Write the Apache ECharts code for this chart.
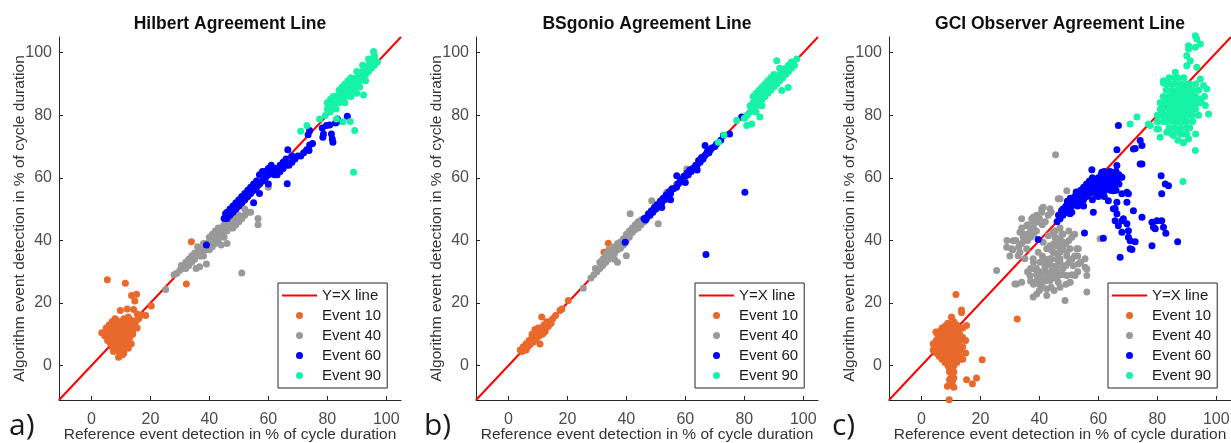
<!DOCTYPE html>
<html>
<head>
<meta charset="utf-8">
<script src="https://cdn.jsdelivr.net/npm/echarts@6/dist/echarts.min.js"></script>
<style>
html,body{margin:0;padding:0;background:#fff;}
#chart{width:1231px;height:443px;}
</style>
</head>
<body>
<div id="chart"></div>
<script>
// ---------- data ----------
const panelTitles = ['Hilbert Agreement Line', 'BSgonio Agreement Line', 'GCI Observer Agreement Line'];
const panelLetters = ['a)', 'b)', 'c)'];
const tickValues = [0, 20, 40, 60, 80, 100];
const axisRange = [-11, 105];
const seriesNames = ['Y=X line', 'Event 10', 'Event 40', 'Event 60', 'Event 90'];
const xAxisName = 'Reference event detection in % of cycle duration';
const yAxisName = 'Algorithm event detection in % of cycle duration';

// Panel a) Hilbert
const hilbertE10 = [[6,9],[6,11],[6.5,12.5],[6,13],[7,14],[7,10],[7,8],[7,6],[7.5,11.5],[8,13],[8,9],[8,7],[8,5],[8.5,11],[8.5,14.5],[9,12],[9,10],[9,8],[9,6],[9.2,2.7],[9.5,13.5],[9.5,4.5],[10,11],[10,9],[10,7],[10,5],[10,14],[10.5,12.5],[10.5,8],[11,10],[11,13],[11,6],[11,4],[11.5,11.5],[11.5,8.5],[12,14],[12,12],[12,10],[12,7],[12.5,5.5],[13,13],[13,11],[13,9],[13.5,14.5],[14,12],[14,10],[14.5,13],[15,14],[5,10],[5.5,8],[4.5,9.5],[6.5,7],[7.5,4.5],[8,15],[11,15],[12.5,15.5],[13.5,7],[10.5,3.5],[3.5,10.5],[5,12],[15.5,12],
  [6,10],[7,12],[8,11],[8,12],[9,11],[10,10],[10,12],[11,11],[11,9],[12,11],[12,9],[12,8],[13,12],[11,7],[10,6],[9,7],[8,6],[9,9],[10,8],[13,10],[14,11],[7,13],[7,9],
  [5.4,27.4],[11.5,26.3],[13.6,22.4],[15.3,22.8],[14.7,20.6],[9.8,17.6],[12.1,18.1],[14.3,17.9],[17,16.2],[18.4,16],[20.3,19],[33.9,39.6],[32.2,26.1],[15.5,16.5],[16,15]];
const hilbertE40 = [[25.2,24.3],[28,29],[29,29.5],[30,30.5],[30.5,32],[31,31],[32,33],[32,31],[33,34],[33,32],[34,35],[34,33],[35,36],[35,34],[35.5,31],[36,36],[36,38],[37,37],[37,35],[38,39],[38,37],[38,35],[39,39],[39,37],[39,32.5],[40,41],[40,39],[40,37],[41,42],[41,40],[42,43],[42,41],[42,39],[43,44],[43,42],[43,40],[44,44],[44,42],[45,45],[45,43],[45,41],[46,45],[46,43],[46,39],[47,46],[47,44],[48,46],[48,44],[49,47],[49,45],[50,48],[50,46],[51,47],[52,48],[52,50],[53,49],[54,49],[56.5,47],[56.5,45],[51,29.6],[36.7,31.6],[60,57],[49,51.7],[44,38.5],[41,38]];
const hilbertE60 = [[39,38.5],[45,47],[45.5,48.5],[46,47],[46,49],[47,48],[47,50],[48,49],[48,51],[49,50],[49,52],[50,51],[50,53],[51,52],[51,54],[52,53],[52,55],[53,54],[53,56],[54,55],[54,57],[55,56],[55,58],[56,57],[56,59],[57,58],[57,61],[58,59],[58,62],[59,60],[59,62],[60,61],[60,63],[61,62],[61,64],[62,61],[62,63],[63,61],[63,63],[64,62],[64,64],[65,63],[65,65],[66,64],[66,66],[67,64],[68,65],[68,67],[69,66],[70,67],[71,67],[72,68],[73,69],[74,70.5],[75,71],[73.8,68.7],[66.4,58.1],[55,52],[57,55],[60,58],
  [74,75.1],[79.7,76.7],[78.7,74],[78.5,73],[81.4,74],[81.7,72.4],[80.8,76.9],[83.4,78.8],[86.8,79.7],[82.8,77.5],[78.3,75.9],[81.9,71.4],[83.6,78.1],[73.5,73.8],[66.6,69]];
const hilbertE90 = [[80,82],[80,84],[81,83],[81,85],[82,83],[82,85],[82,86],[83,84],[83,86],[84,84],[84,86],[84,88],[85,85],[85,87],[85,89],[86,86],[86,88],[86,90],[87,87],[87,89],[87,91],[88,88],[88,90],[88,92],[89,89],[89,91],[90,90],[90,92],[90,94],[91,91],[91,93],[92,92],[92,94],[92,96],[93,93],[93,95],[94,94],[94,96],[94,98],[95,95],[95,97],[96,96],[96,98],[97,97],[96,99],[95.7,100.4],[92.3,86.5],[90,87],[88,86],[86,84],[83,82],[81,81],[89,88],[91,89],[93,91],
  [71,74.9],[73.1,76.7],[77.4,78.8],[79.3,79.9],[83.1,78.8],[85.3,77.9],[87.8,78],[89.3,75.1],[88.9,61.8]];

// Panel b) BSgonio
const bsgonioE10 = [[4,5],[4.5,4.5],[5,5.5],[5,6],[5.5,5],[6,6],[6,7],[6.5,6],[7,7],[7,8],[7.5,7],[8,8],[8,9],[8.5,7.5],[9,9],[9,10],[9.5,8.5],[10,10],[10,11],[10.5,9.5],[11,11],[11,12],[11.5,10],[12,12],[12,13],[12.5,11],[13,13],[13,14],[13.5,12.5],[14,14],[14.5,13.5],[15,15],[8,10],[9,11.5],[10,12],[11.3,15.5],[10.7,6.9],[17.5,17.6],[18.1,18.1],[20.3,20.8],[33.9,39.1],[32.4,36.2],[16,16],[6,5],[7,6.5],[12,10.5]];
const bsgonioE40 = [[25.4,24.7],[28,28],[29,29],[29.5,31],[30,30],[31,31],[31,33],[32,32],[32,34],[33,33],[33,35.5],[34,34],[34,36],[35,35],[35,37],[36,36],[36,38],[37,37],[37,39],[38,37.5],[38,39.5],[39,38.5],[39,40.5],[40,40],[40,42],[41,41],[41,43],[42,42.5],[42,44],[43,43.5],[43,45],[44,44],[44,46],[45,45],[45,46.5],[46,46],[47,47],[48,48],[40,35.1],[37,33],[41.3,48.5],[50.8,45.3],[48.6,52.7],[53.7,55.4],[55,56],[57,58],[60.5,62.8],[50,51],[52,53],[36,34],[34,37]];
const bsgonioE60 = [[39.6,39.4],[46,47],[46.5,46.5],[47,47.5],[47.5,48.5],[48,48],[48.5,49.5],[49,49],[49.5,50.5],[50,50],[50.5,51.5],[51,51],[51.5,52.5],[52,52],[52.5,53.5],[53,53],[53.5,54.5],[54,54],[54.5,55.5],[55,55],[55.5,56.5],[56,56.5],[57,57],[57.1,60.7],[57.5,58],[58,58.5],[58.5,59.5],[59,59],[59.5,60.5],[60,60.5],[60.5,61.5],[61,61],[61.5,62.5],[62,62],[62.5,63],[63,63],[63.5,64],[64,64],[64.5,65.5],[65,65],[65.5,66.5],[66,66],[66.7,70.3],[66.5,67],[67,67.5],[67.5,68.5],[68,68],[68.5,69],[69,69.5],[70,70],[70.6,70.8],[72,72],[72.9,73.5],[75,74],[79.1,79.4],[80.2,55.4],[67,35.5],[55,53],[52,50.5],[60,58.5],[64,62.5]];
const bsgonioE90 = [[80.8,76.7],[82.5,77.2],[85.3,79.4],[81,80],[82,81],[82,83],[83,82],[83,84],[83,86],[84,83],[84,85],[84,87],[85,84],[85,86],[85,88],[86,85],[86,87],[86,89],[87,86],[87,88],[87,90],[88,87],[88,89],[88,91],[89,88],[89,90],[89,92],[90,89],[90,91],[90,93],[91,90],[91,92],[92,91],[92,93],[92,95],[93,92],[93,94],[94,93],[94,95],[95,94],[95,96],[96,95],[96,97],[97,96],[97.8,98],[91,97.4],[94.9,88.9],[92.7,87.9],[71.2,71.4],[73.1,73.7],[77.4,78.3],[80,79],[84,81],[86,83]];

// Panel c) GCI observer
const gciE10 = [[4,5],[4,7],[5,4],[5,6],[5,8],[5.5,10],[6,3],[6,5],[6,7],[6,9],[6.5,11],[7,2],[7,4],[7,6],[7,8],[7,10],[8,1],[8,3],[8,5],[8,7],[8,9],[8,11],[8.5,13],[9,0],[9,2],[9,4],[9,6],[9,8],[9,10],[9,12],[10,-1],[10,1],[10,3],[10,5],[10,7],[10,9],[10,11],[10,13],[11,0],[11,2],[11,4],[11,6],[11,8],[11,10],[11,12],[12,1],[12,3],[12,5],[12,7],[12,9],[12,11],[13,2],[13,5],[13,8],[13,10],[14,6],[14,9],[14,12],[15,8],[15,4],[14,2],[9.5,-2],[10.5,-3],[10,-4],[11,-2],[10.5,-5],[9.5,-4.5],
  [6,4],[7,3],[8,2],[7,5],[8,4],[9,3],[9,5],[9,7],[10,6],[10,8],[11,5],[11,7],[11,9],[12,6],[12,8],[13,6],[13,3],[12,2],[8,6],[8,8],[7,9],[6,6],[5,7],[11,1],[10,0],[12,4],[10.5,-1.5],[9.5,-1],[11,-4],[10,-6],[13,12],[12,13],[11,14],[7,12],[8,12.5],[9,13.5],
  [11.7,22.7],[13.6,17.8],[13.6,17],[10.2,15.5],[15.3,12.8],[20.6,1.9],[18.7,-4],[17.3,-5.8],[15.3,-4.5],[8.8,-6.6],[11,-6.9],[9.4,-10.9],[32.5,14.9],[4.9,10.7],[6.2,10.9]];
const gciE40 = [[45.5,67.4],[49.3,55.9],[46.4,53.3],[41.3,50.6],[40.8,49],[43.6,50.1],[37.4,46.9],[39.1,45.8],[35.7,44.7],[33.4,42.6],[34.5,41],[31.1,39.9],[28.9,37.8],[30.6,37.3],[33.4,36.2],[35.7,37.3],[35.1,34.1],[32.8,35.1],[25.5,30.4],[31.7,26.1],[34,26.6],[38.5,30.9],[40.2,28.8],[36.8,28.8],[41.9,31.4],[43.6,34.1],[44.7,36.2],[45.9,38.3],[47.6,37.3],[49.3,35.1],[47,34.1],[45.3,41],[47.6,42.1],[45.3,43.1],[48.1,39.4],[50.4,37.3],[52.7,37.3],[53.2,32.5],[55.5,31.4],[56.1,28.8],[52.1,28.8],[50.4,26.6],[46.4,26.6],[43.6,27.2],[42.5,24.5],[39.1,22.9],[56.1,23.5],[60.6,40.5],[39.6,36.2],[41.3,39.4],[43,41.5],[37.9,34.1],[40.2,33],[42.5,37.3],
  [48.7,20.8],[37.9,21.9],[42.5,22.4],[32.3,26.1],[34,46.9],[37.9,47.4],[40.8,50.1],[47,53.3],[40.2,29.8],[44.7,28.8],[51.5,31.9],[53.2,37.3],[56.1,30.9],[55.5,34.1],[49.3,36.2],[47,40.5],[44.7,42.6],[43.6,38.3],[47,36.2],[49.3,28.8],[50.4,26.6],[36,40],[38,42],[39,31],[42,30],[44,32],[46,30],[38,33],[41,35],
  [33,38],[34,39],[35,40],[36,42],[37,43],[38,44],[36,45],[35,42],[34,44],[37,41],[38,46],[39,48],[40,47],[39,43],[41,45],[42,46],[43,48],[44,49],[32,40],[31,37],[30,35],[29,40],
  [39,27],[40,26],[41,28],[42,27],[43,29],[44,30],[45,31],[46,32],[47,33],[48,31],[49,32],[50,33],[51,34],[45,28],[46,28],[47,29],[48,29],[40,24],[41,25],[44,25],[45,24],[38,26],[37,27],[36,30],[37,31],[39,29],[42,32],[43,33],[44,34],[45,36],[46,36],[47,38],[48,38],[49,39],[50,40],[51,41],[52,42],[50,43],[48,42],[46,40],[44,37],[42,34],[40,30],[52,35],[53,35],[54,33],[51,29],[53,30],[49,26],[47,25],[46,34],[45,39],[47,44]];
const gciE60 = [[39.6,40.3],[47,46.9],[48.1,49],[50.4,51.1],[52.7,52.7],[54.9,54.3],[57.2,55.4],[59.5,57.5],[61.7,59.6],[64,61.2],[66.3,63.9],[57.8,62.6],[61.2,61.8],[65.7,61.8],[68,60.2],[66.3,58.6],[64.6,56.5],[61.7,54.9],[59.5,54.3],[58.3,49],[50.4,48.5],[55.3,42.4],[61.7,40.7],[65.7,50.1],[66.3,48.5],[65.7,46.3],[66.8,44.7],[68.5,46.9],[69.7,45.3],[68,42.6],[70.2,41],[70.8,39.9],[70.8,37.3],[67.4,34.6],[71.9,49.5],[74.8,47.4],[78.2,45.8],[79.9,46.3],[78.7,44.2],[82.1,44.2],[78.2,38.3],[68,54.9],[70.2,54.9],[69.7,52.2],[66.3,52.2],[81.3,60.7],[82.7,58],[81.5,54.9],[74.2,64.4],[71.9,69.2],[66.8,76.7],[66.3,69],[72.5,69.4],[74.2,71.9],[74.8,70.3],[74.8,64.4],[67.4,60.2],[69.7,55.4],[83.8,57.5],[79.3,43.7],[81.5,46.3],[82.9,42.3],[86.9,39.6],[71.4,37.1],[72.5,39.6],[70.2,43.1],[68,46.3],[65.1,55.9],[63.4,52.7],[65.1,50.1],
  [46,46],[46.5,48],[47.5,49.5],[48,48],[48,50],[49,49],[49,51],[49.5,52.5],[50,50],[50,52],[50.5,53.5],[51,51],[51,53],[52,52],[52,54],[52.5,55.5],[53,51],[53,53],[53,55],[54,52],[54,54],[54,56],[55,53],[55,55],[55,57],[56,54],[56,56],[56,58],[57,55],[57,57],[57,59],[58,56],[58,58],[58,60],[59,55],[59,57],[59,59],[60,56],[60,58],[60,60],[61,57],[61,59],[61,61],[62,56],[62,58],[62,60],[62,62],[63,57],[63,59],[63,61],[64,58],[64,60],[64,62],[65,57],[65,59],[65,61],[66,60],[66,62],[67,58],[67,61],[51,49],[55,51],[58,53],[60,54],[62,54],[64,56],[66,56]];
const gciE90 = [[82.1,90.3],[86.1,93.7],[70.8,77.2],[73.1,79.4],[77.6,76.7],[81,73],[79.9,75.6],[83.2,74.6],[85.5,73.5],[88.9,71.4],[88.7,58.8],[90,99],[90.6,102.2],[92.9,105.4],[93.4,104.4],[94.6,102.8],[92.9,101.7],[90.6,101.2],[91.2,97.4],[90,95.8],[93.4,95.3],[95.7,89.5],[96.8,88.4],[97.4,80.4],[96.3,83.1],[92.9,68.7],[88.9,71.2],[90.6,72.4],[80.4,75.6],[77,77.2],[82.1,91],[88.3,89.5],[83.2,85.2],[81,82],[84.4,78.8],[86.6,75.1],[88.9,85.2],[87.8,82],[92.3,82],[94.6,85.2],[94.6,91.6],[89.5,79.9],[85.5,87.3],
  [80,80],[81,84],[82,78],[82,82],[82,86],[83,80],[83,84],[83,88],[84,76],[84,82],[84,86],[84,90],[85,78],[85,80],[85,84],[85,88],[86,76],[86,82],[86,86],[86,90],[87,78],[87,80],[87,84],[87,88],[87,92],[88,76],[88,82],[88,86],[88,90],[89,78],[89,80],[89,84],[89,88],[89,92],[90,76],[90,82],[90,86],[90,90],[91,80],[91,84],[91,88],[92,78],[92,86],[93,82],[93,90],[94,80],[94,88],[95,84],[96,86],[91,76],[93,74],[85,74],[87,72],[89,74],
  [82,84],[83,90],[84,92],[85,90],[86,92],[86,80],[86,78],[87,86],[87,82],[88,84],[88,88],[88,80],[88,78],[89,86],[89,82],[90,84],[90,88],[90,80],[90,78],[91,86],[91,82],[91,90],[92,84],[92,88],[92,80],[93,86],[93,84],[94,84],[85,82],[84,80],[83,78],[81,80],[80,78],[82,80],[86,84],[88,74],[90,74],[84,84],[85,86]];

const identityLine = [[-11, -11], [105, 105]];
const panelData = [
  [hilbertE10, hilbertE40, hilbertE60, hilbertE90],
  [bsgonioE10, bsgonioE40, bsgonioE60, bsgonioE90],
  [gciE10, gciE40, gciE60, gciE90]
];
const eventColors = ['#E8692B', '#999999', '#0000FF', '#17F3A6'];
const lineColor = '#FF0000';

// ---------- layout ----------
const gridLefts = [59, 476, 889];
const gridTop = 37, gridW = 342, gridH = 363;
const FONT = '"Liberation Sans", Arial, sans-serif';

const chart = echarts.init(document.getElementById('chart'), null, {renderer: 'canvas'});

const grids = [], xAxes = [], yAxes = [], series = [], titles = [], legends = [];
for (let p = 0; p < 3; p++) {
  grids.push({left: gridLefts[p], top: gridTop, width: gridW, height: gridH, containLabel: false, outerBoundsMode: 'none'});
  const axisCommon = {
    type: 'value', min: axisRange[0], max: axisRange[1], gridIndex: p,
    splitLine: {show: false},
    axisLine: {show: true, onZero: false, lineStyle: {color: '#262626', width: 1}},
    axisTick: {show: true, inside: true, length: 4, customValues: tickValues, lineStyle: {color: '#262626'}},
    axisLabel: {show: true, customValues: tickValues, fontSize: 16, color: '#4D4D4D', fontFamily: FONT},
    nameLocation: 'middle',
    nameMoveOverlap: false,
    nameTextStyle: {fontSize: 15.5, color: '#333333', fontFamily: FONT}
  };
  xAxes.push(Object.assign({}, axisCommon, {
    name: xAxisName, nameGap: 27,
    axisLabel: Object.assign({}, axisCommon.axisLabel, {margin: 12})
  }));
  yAxes.push(Object.assign({}, axisCommon, {
    name: yAxisName, nameGap: 31,
    axisLabel: Object.assign({}, axisCommon.axisLabel, {margin: 7})
  }));
  series.push({
    type: 'line', name: seriesNames[0], xAxisIndex: p, yAxisIndex: p,
    data: identityLine, symbol: 'none', z: 1, silent: true,
    lineStyle: {color: lineColor, width: 2}, itemStyle: {color: lineColor}
  });
  for (let k = 0; k < 4; k++) {
    series.push({
      type: 'scatter', name: seriesNames[k + 1], xAxisIndex: p, yAxisIndex: p,
      data: panelData[p][k], symbol: 'circle', symbolSize: 7, clip: false, z: 2 + k,
      itemStyle: {color: eventColors[k], opacity: 1}
    });
  }
  titles.push({
    text: panelTitles[p], left: gridLefts[p] + gridW / 2, top: 15, textAlign: 'center', padding: 0,
    textStyle: {fontSize: 17.5, fontWeight: 'bold', color: '#111', fontFamily: FONT}
  });
  titles.push({
    text: panelLetters[p], left: [9, 424, 832][p], top: 411, padding: 0,
    textStyle: {fontSize: 30, fontWeight: 'normal', color: '#1a1a1a', fontFamily: '"Open Sans", sans-serif'}
  });
  legends.push({
    data: [{name: seriesNames[0], icon: 'path://M0,0L35,0L35,2L0,2Z'}].concat(seriesNames.slice(1)),
    orient: 'vertical',
    left: gridLefts[p] + 219, top: 283,
    itemWidth: 35, itemHeight: 7, itemGap: 5,
    padding: [5, 6, 5, 4],
    backgroundColor: '#ffffff', borderColor: '#262626', borderWidth: 1,
    selectedMode: false,
    textStyle: {fontSize: 15, color: '#1a1a1a', fontFamily: FONT}
  });
}

chart.setOption({
  animation: false,
  backgroundColor: '#ffffff',
  title: titles,
  legend: legends,
  grid: grids,
  xAxis: xAxes,
  yAxis: yAxes,
  series: series
});
</script>
</body>
</html>
